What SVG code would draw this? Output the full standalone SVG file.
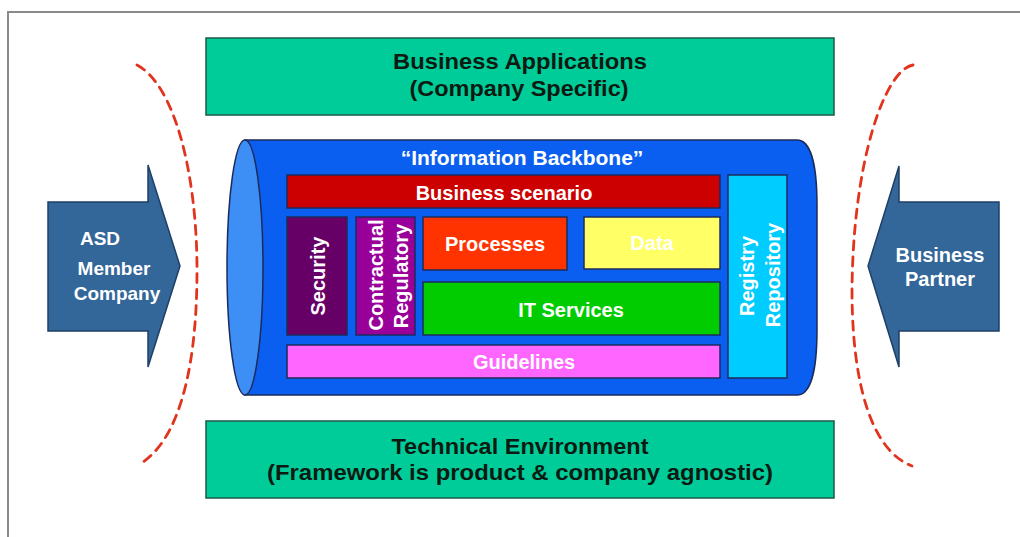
<svg xmlns="http://www.w3.org/2000/svg" width="1020" height="537" viewBox="0 0 1020 537">
<style>
.lbl{font-family:"Liberation Sans",Arial,sans-serif;font-weight:bold;fill:#ffffff;text-anchor:middle}
.dark{font-family:"Liberation Sans",Arial,sans-serif;font-weight:bold;fill:#0d1a12;text-anchor:middle;font-size:22px}
.box{stroke:#1c2b5c;stroke-width:1.5}
.green{fill:#00cc99;stroke:#1d5a48;stroke-width:1.5}
.arrow{fill:#336699;stroke:#1f3f66;stroke-width:1.5}
.dash{fill:none;stroke:#e0341e;stroke-width:2.8;stroke-dasharray:9 7;stroke-linecap:round}
</style>
<rect width="1020" height="537" fill="#ffffff"/>
<path d="M8,537 L8,12 L1020,12" fill="none" stroke="#8a8a8a" stroke-width="2"/>

<g id="boundaries">
<path class="dash" d="M137,65 C175,85 197,175 197,270 C197,380 175,440 143,462"/>
<path class="dash" d="M913,65 C885,70 853,160 852,290 C852,380 870,450 912,466"/>
</g>

<g id="business-applications">
<rect class="green" x="206" y="38" width="628" height="77"/>
<text class="dark" x="520" y="69" textLength="254" lengthAdjust="spacingAndGlyphs">Business Applications</text>
<text class="dark" x="519" y="96" textLength="219" lengthAdjust="spacingAndGlyphs">(Company Specific)</text>
</g>

<g id="technical-environment">
<rect class="green" x="206" y="421" width="628" height="77"/>
<text class="dark" x="520" y="454" textLength="257" lengthAdjust="spacingAndGlyphs">Technical Environment</text>
<text class="dark" x="520" y="480" textLength="506" lengthAdjust="spacingAndGlyphs">(Framework is product &amp; company agnostic)</text>
</g>

<g id="asd-member-company">
<polygon class="arrow" points="48,202 148,202 148,165 180,266 148,367 148,331 48,331"/>
<text class="lbl" font-size="19" x="100" y="245">ASD</text>
<text class="lbl" font-size="19" x="114" y="275">Member</text>
<text class="lbl" font-size="19" x="117" y="300">Company</text>
</g>

<g id="business-partner">
<polygon class="arrow" points="999,202 899,202 899,166 868,266 899,367 899,331 999,331"/>
<text class="lbl" font-size="20" x="940" y="262">Business</text>
<text class="lbl" font-size="20" x="940" y="286">Partner</text>
</g>

<g id="information-backbone">
<path d="M245,140 L797,140 C812,140 817,170 817,205 L817,330 C817,365 812,395 797,395 L245,395 Z" fill="#0a5ff0" stroke="#1c2b5c" stroke-width="1.5"/>
<ellipse cx="245" cy="267.5" rx="18" ry="127.5" fill="#3d8ef5" stroke="#1c2b5c" stroke-width="1.5"/>
<text class="lbl" font-size="21" x="522" y="165">“Information Backbone”</text>
</g>

<g id="business-scenario">
<rect class="box" x="287" y="175" width="433" height="33" fill="#cc0000"/>
<text class="lbl" font-size="20" x="504" y="200">Business scenario</text>
</g>

<g id="security">
<rect class="box" x="287" y="217" width="60" height="118" fill="#660066"/>
<text class="lbl" font-size="20" transform="translate(325,276) rotate(-90)">Security</text>
</g>

<g id="contractual-regulatory">
<rect class="box" x="356" y="217" width="59" height="118" fill="#990099"/>
<text class="lbl" font-size="20" transform="translate(383,275) rotate(-90)">Contractual</text>
<text class="lbl" font-size="20" transform="translate(408,276) rotate(-90)">Regulatory</text>
</g>

<g id="processes">
<rect class="box" x="423" y="217" width="144" height="53" fill="#ff3300"/>
<text class="lbl" font-size="20" x="495" y="251">Processes</text>
</g>

<g id="data">
<rect class="box" x="584" y="217" width="136" height="52" fill="#ffff66"/>
<text class="lbl" font-size="20" x="652" y="250">Data</text>
</g>

<g id="it-services">
<rect class="box" x="423" y="282" width="297" height="53" fill="#00cc00"/>
<text class="lbl" font-size="20" x="571" y="317">IT Services</text>
</g>

<g id="guidelines">
<rect class="box" x="287" y="345" width="433" height="33" fill="#ff66ff"/>
<text class="lbl" font-size="20" x="524" y="369">Guidelines</text>
</g>

<g id="registry-repository">
<rect class="box" x="728" y="175" width="59" height="203" fill="#00ccff"/>
<text class="lbl" font-size="20" transform="translate(754,276) rotate(-90)">Registry</text>
<text class="lbl" font-size="20" transform="translate(780,275) rotate(-90)">Repository</text>
</g>
</svg>
